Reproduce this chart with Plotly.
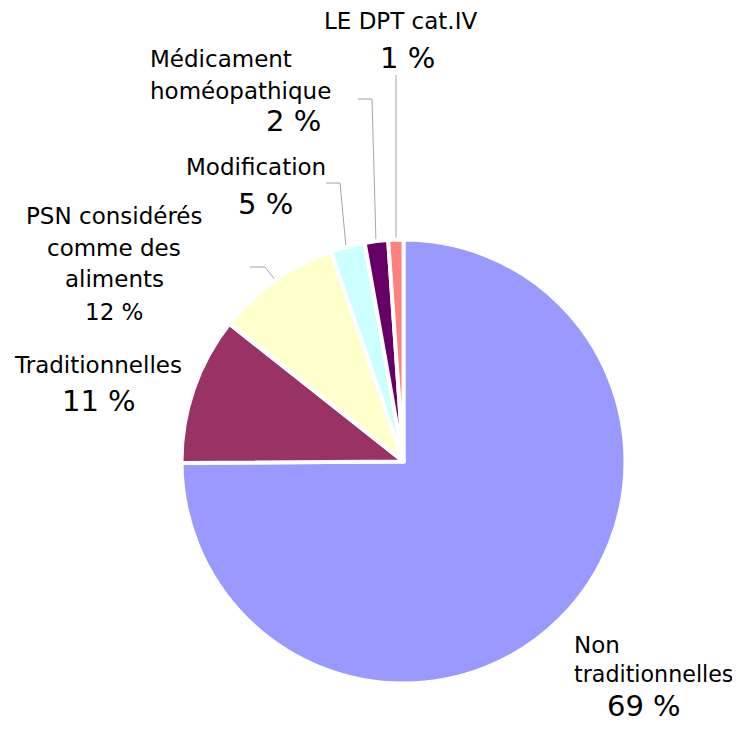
import plotly.graph_objects as go

categories = ["Non traditionnelles", "Traditionnelles", "PSN considérés comme des aliments",
              "Modification", "Médicament homéopathique", "LE DPT cat.IV"]
values = [74.9, 10.75, 9.05, 2.5, 1.7, 1.1]
pct_labels = ["69 %", "11 %", "12 %", "5 %", "2 %", "1 %"]
colors = ["#9999FF", "#993366", "#FFFFCC", "#CCFFFF", "#660066", "#FF8080"]

# page body has an 8px margin: draw a figure of 732x724 and map reference pixels onto it
OFF = 8
W, H = 740 - OFF, 732 - OFF
cx, cy, r = 403.5, 461.5, 222


def px(x):
    return (x - OFF) / W


def py(y):
    return 1 - (y - OFF) / H


FONT = "DejaVu Sans"
TXT = 23
BIG = 29

fig = go.Figure()
fig.add_trace(go.Pie(
    labels=categories, values=values, sort=False, direction="clockwise", rotation=0,
    marker=dict(colors=colors, line=dict(color="white", width=4)),
    textinfo="none", hoverinfo="label+value", showlegend=False,
    domain=dict(x=[px(cx - r), px(cx + r)], y=[py(cy + r), py(cy - r)]),
))

# leader lines (reference pixel coords)
leaders = [
    [(396, 75), (396, 243)],
    [(358, 99), (372, 99), (376, 243)],
    [(326, 183), (340, 183), (346, 247)],
    [(250, 267), (265, 267), (276, 281)],
]
for pts in leaders:
    fig.add_trace(go.Scatter(x=[p[0] for p in pts], y=[p[1] for p in pts], mode="lines",
                             line=dict(color="#A6A6A6", width=1), hoverinfo="skip",
                             showlegend=False))

# label lines: (text, x, y, xanchor, size)
label_lines = [
    ("LE DPT cat.IV", 400, 21, "center", TXT),
    (pct_labels[5], 407, 58, "center", BIG),
    ("Médicament", 148, 59, "left", TXT),
    ("homéopathique", 148, 91, "left", TXT),
    (pct_labels[4], 293, 121, "center", BIG),
    ("Modification", 256, 167, "center", TXT),
    (pct_labels[3], 265, 204, "center", BIG),
    ("PSN considérés", 114, 216, "center", TXT),
    ("comme des", 114, 248, "center", TXT),
    ("aliments", 114, 279, "center", TXT),
    (pct_labels[2], 114, 312, "center", TXT),
    ("Traditionnelles", 98, 365, "center", TXT),
    (pct_labels[1], 98.5, 401, "center", BIG),
    ("Non", 572, 645, "left", TXT),
    ("traditionnelles", 572, 674, "left", 22.2),
    (pct_labels[0], 644, 706, "center", BIG),
]
for text, x, y, xa, size in label_lines:
    fig.add_annotation(x=x, y=y, xref="x", yref="y", text=text, showarrow=False,
                       xanchor=xa, yanchor="middle",
                       font=dict(family=FONT, size=size, color="black"))

fig.update_layout(
    width=W, height=H, margin=dict(l=0, r=0, t=0, b=0),
    paper_bgcolor="white", plot_bgcolor="rgba(0,0,0,0)",
    xaxis=dict(range=[OFF, 740], visible=False, fixedrange=True),
    yaxis=dict(range=[732, OFF], visible=False, fixedrange=True),
    font=dict(family=FONT, color="black"),
)

fig.write_html("out.html")
